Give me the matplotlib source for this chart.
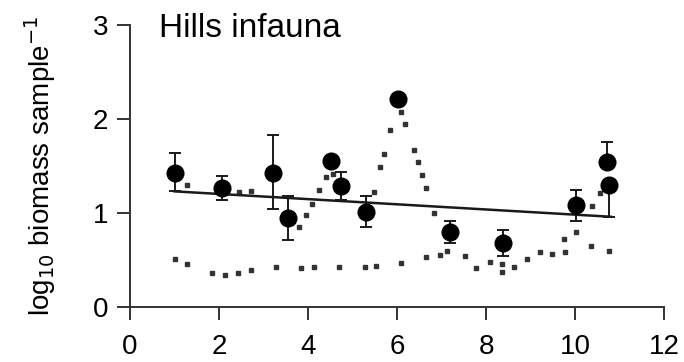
import numpy as np
import matplotlib
matplotlib.use("Agg")
import matplotlib.pyplot as plt

plt.rcParams["font.family"] = ["Liberation Sans", "DejaVu Sans"]

# means with error bars
x_mean = [1.01, 2.06, 3.22, 3.56, 4.52, 4.73, 5.31, 6.02, 7.20, 8.38, 10.02, 10.72, 10.77]
y_mean = [1.42, 1.27, 1.43, 0.95, 1.55, 1.29, 1.01, 2.21, 0.80, 0.68, 1.09, 1.54, 1.30]
err_lo = [0.19, 0.13, 0.39, 0.24, 0.05, 0.15, 0.16, 0.03, 0.12, 0.14, 0.18, 0.05, 0.34]
err_hi = [0.22, 0.12, 0.40, 0.23, 0.05, 0.15, 0.17, 0.03, 0.11, 0.14, 0.15, 0.22, 0.05]

# regression line
trend_x = [1.0, 10.8]
trend_y = [1.23, 0.96]

# dotted profiles
upper_x = [1.29, 2.44, 2.72, 3.80, 3.96, 4.10, 4.25, 4.41, 4.55, 5.49, 5.62, 5.70,
           5.85, 6.09, 6.18, 6.38, 6.47, 6.56, 6.64, 6.84, 9.75, 10.03, 10.38, 10.56]
upper_y = [1.30, 1.22, 1.23, 0.85, 0.98, 1.10, 1.24, 1.38, 1.41, 1.22, 1.49, 1.63,
           1.88, 2.07, 1.95, 1.67, 1.54, 1.40, 1.27, 1.00, 0.72, 0.80, 1.07, 1.21]
lower_x = [1.01, 1.29, 1.85, 2.13, 2.42, 2.72, 3.28, 3.84, 4.13, 4.69, 5.27, 5.53,
           6.08, 6.66, 6.96, 7.13, 7.52, 7.78, 8.08, 8.36, 8.36, 8.63, 8.93, 9.21,
           9.49, 9.78, 10.35, 10.75]
lower_y = [0.51, 0.46, 0.36, 0.34, 0.36, 0.39, 0.42, 0.41, 0.43, 0.43, 0.42, 0.44,
           0.47, 0.53, 0.55, 0.60, 0.54, 0.41, 0.48, 0.46, 0.37, 0.43, 0.51, 0.58,
           0.56, 0.58, 0.65, 0.60]

fig = plt.figure(figsize=(6.84, 3.62), dpi=100)
ax = fig.add_axes([0.190, 0.152, 0.781, 0.779])

ink = "#1a1a1a"
ax.plot(upper_x, upper_y, ls="none", marker="s", ms=2.2, color="#333333")
ax.plot(lower_x, lower_y, ls="none", marker="s", ms=2.2, color="#333333")
ax.plot(trend_x, trend_y, color=ink, lw=1.8)
ax.errorbar(x_mean, y_mean, yerr=[err_lo, err_hi], fmt="o", ms=12, color="black",
            ecolor=ink, elinewidth=1.4, capsize=4.5, capthick=1.4, zorder=3)

ax.set_xlim(0, 12)
ax.set_ylim(0, 3)
ax.set_xticks(range(0, 13, 2))
ax.set_yticks([0, 1, 2, 3])
for side in ["top", "right"]:
    ax.spines[side].set_visible(False)
for side in ["left", "bottom"]:
    ax.spines[side].set_color("#333333")
    ax.spines[side].set_linewidth(1.4)
ax.tick_params(direction="out", length=9.5, width=1.4, color="#333333",
               labelsize=20, pad=10)
ax.tick_params(axis="y", pad=6)
fig.text(40 / 684, 1 - 166 / 362, "log$_{10}$ biomass sample$^{-1}$", fontsize=20,
         rotation=90, ha="center", va="center")
ax.text(0.65, 3.13, "Hills infauna", fontsize=24, va="top", ha="left")

fig.savefig("out.png", dpi=100)
